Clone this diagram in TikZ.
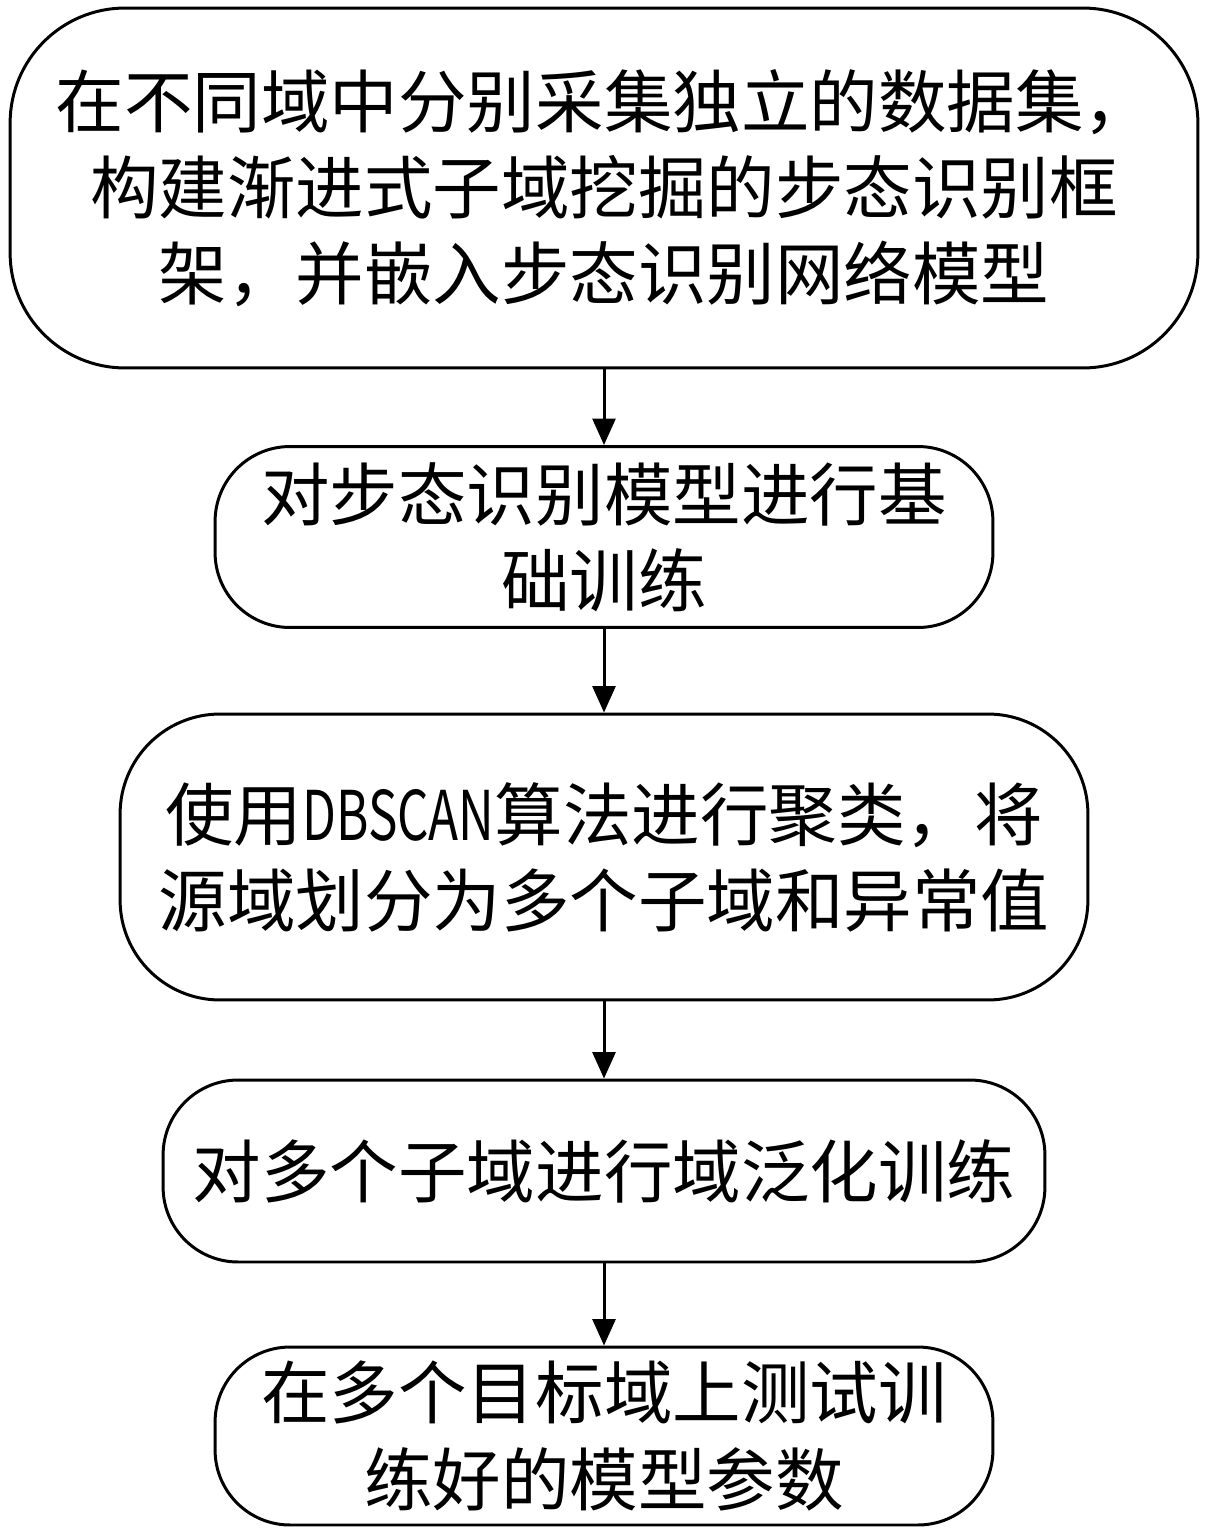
\documentclass[tikz,border=0pt]{standalone}
\usepackage{fontspec}
\usepackage{graphicx}
\setmainfont{Noto Sans CJK SC}
\usetikzlibrary{arrows.meta}
\tikzset{
	stepbox/.style={draw, line width=1.7pt, align=center, inner sep=0pt,
		font=\fontsize{39}{49}\selectfont},
	flow/.style={-{Triangle[length=15pt,width=13pt]}, line width=1.7pt}
}
\begin{document}
\begin{tikzpicture}[x=0.02cm,y=-0.02cm]
		\useasboundingbox (0,0) rectangle (1205,1531);
		\node[stepbox, minimum width=23.76cm, minimum height=7.2cm, rounded corners=2.3cm] (collect) at (604,188)
			{在不同域中分别采集独立的数据集，\\构建渐进式子域挖掘的步态识别框\\架，并嵌入步态识别网络模型};
		\node[stepbox, minimum width=15.56cm, minimum height=3.62cm, rounded corners=1.5cm] (base) at (604,537)
			{对步态识别模型进行基\\础训练};
		\node[stepbox, minimum width=19.36cm, minimum height=5.72cm, rounded corners=2cm] (cluster) at (604,857)
			{使用\scalebox{0.72}[1]{DBSCAN}算法进行聚类，将\\源域划分为多个子域和异常值};
		\node[stepbox, minimum width=17.64cm, minimum height=3.64cm, rounded corners=1.5cm] (general) at (604,1171)
			{对多个子域进行域泛化训练};
		\node[stepbox, minimum width=15.56cm, minimum height=3.56cm, rounded corners=1.5cm] (test) at (604,1436)
			{在多个目标域上测试训\\练好的模型参数};
		\draw[flow] (collect) -- (base);
		\draw[flow] (base) -- (cluster);
		\draw[flow] (cluster) -- (general);
		\draw[flow] (general) -- (test);
	\end{tikzpicture}
\end{document}
